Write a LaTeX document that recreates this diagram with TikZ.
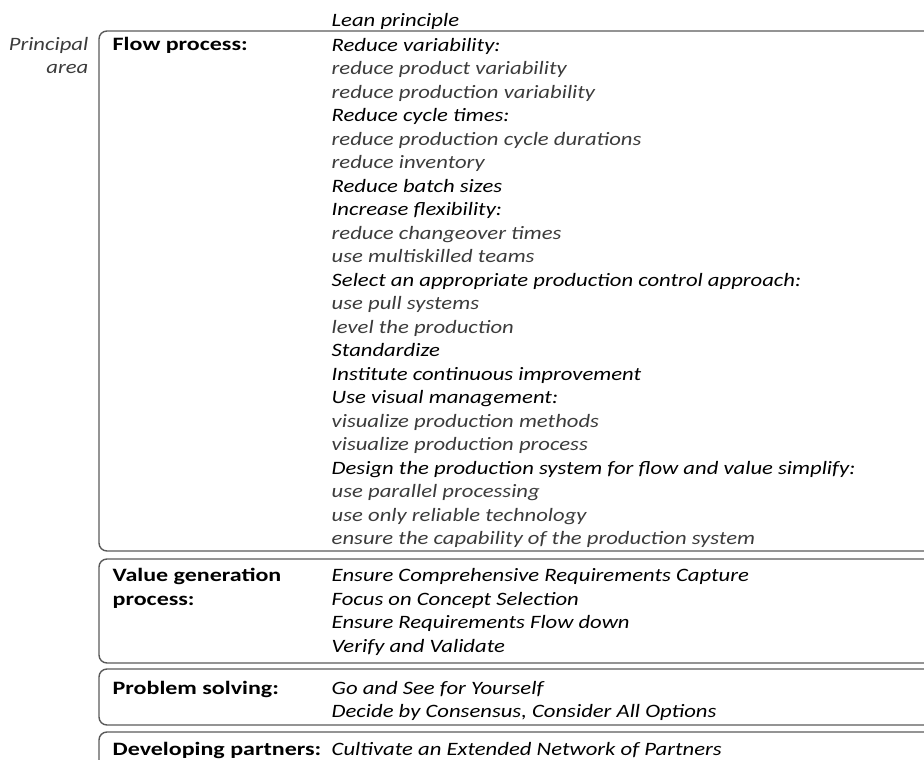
\documentclass[tikz,border=0pt]{standalone}
\usepackage{fontspec}
\setmainfont[FakeStretch=1.2,BoldFeatures={FakeStretch=1.27}]{Carlito}
\definecolor{boxgray}{HTML}{5A5A5A}
\definecolor{subgray}{HTML}{3C3C3C}
\newcommand{\leanmain}[1]{\textcolor{black}{#1}}

\begin{document}
\begin{tikzpicture}[
                x=1pt,y=-1pt,
                line width=1.4pt,
                boxline/.style={draw=boxgray,rounded corners=8pt},
                txt/.style={anchor=base west,align=left,inner sep=0pt,
                            font=\fontsize{18.9}{23.5}\selectfont\itshape,text=subgray},
                heading/.style={txt,font=\fontsize{18.9}{23.5}\selectfont\bfseries,text=black}] %

\useasboundingbox (0,0) rectangle (924,760);
\clip (0,0) rectangle (924,760);

% header (base anchor = last line)
\node[txt,text=black] (LEAN) at (331,27) {Lean principle};
\node[txt,anchor=base east,align=right] (AREA) at (89,74) {Principal\\area};

                    % 1
                    \draw[boxline] (940,31) -- (99,31) -- (99,551) -- (940,551);
                    \node[heading] (FLOW) at (112,51) {Flow process:};
                    \node[txt] (FLOWP) at (331,544.5) {\leanmain{Reduce variability:}\\
                        reduce product variability\\
                        reduce production variability\\
                        \leanmain{Reduce cycle times:}\\
                        reduce production cycle durations\\
                        reduce inventory\\
                        \leanmain{Reduce batch sizes}\\
                        \leanmain{Increase flexibility:}\\
                        reduce changeover times\\
                        use multiskilled teams\\
                        \leanmain{Select an appropriate production control approach:}\\
                        use pull systems\\
                        level the production\\
                        \leanmain{Standardize}\\
                        \leanmain{Institute continuous improvement}\\
                        \leanmain{Use visual management:}\\
                        visualize production methods\\
                        visualize production process\\
                        \leanmain{Design the production system for flow and value simplify:}\\
                        use parallel processing\\
                        use only reliable technology\\
                        ensure the capability of the production system};

                    % 2
                    \draw[boxline] (940,559) -- (99,559) -- (99,663) -- (940,663);
                    \node[heading] (VALUE) at (112,605) {Value generation\\process:};
                    \node[txt,text=black] (VALUEP) at (331,652) {Ensure Comprehensive Requirements Capture\\
                        Focus on Concept Selection\\
                        Ensure Requirements Flow down\\
                        Verify and Validate};

                    % 3
                    \draw[boxline] (940,669) -- (99,669) -- (99,725) -- (940,725);
                    \node[heading] (SOLVE) at (112,694) {Problem solving:};
                    \node[txt,text=black] (SOLVEP) at (331,717.5) {Go and See for Yourself\\
                        Decide by Consensus, Consider All Options};

                    % 4
                    \draw[boxline] (940,732) -- (99,732) -- (99,790);
                    \node[heading] (PARTN) at (112,755) {Developing partners:};
                    \node[txt,text=black] (PARTNP) at (331,755) {Cultivate an Extended Network of Partners};

\end{tikzpicture}
\end{document}
